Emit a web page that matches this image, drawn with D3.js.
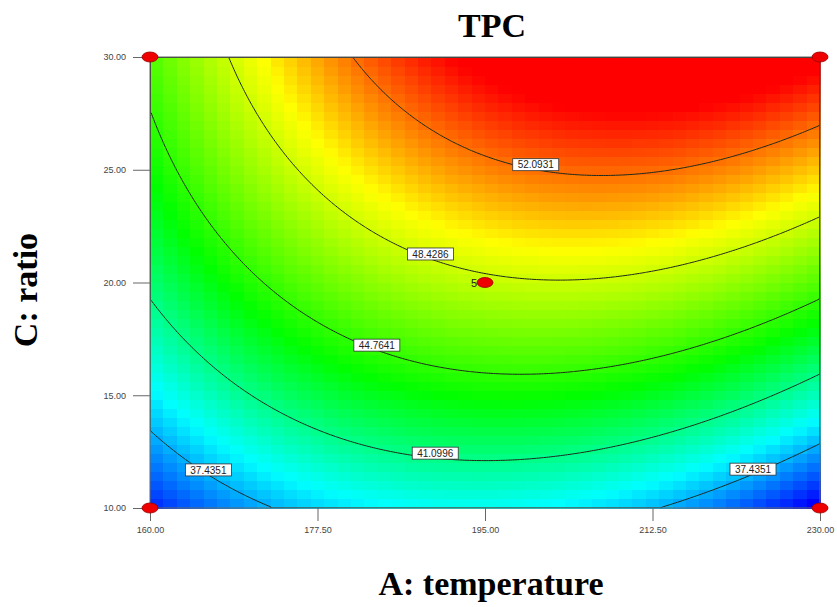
<!DOCTYPE html>
<meta charset="utf-8">
<html>
<head>
<script src="https://cdn.jsdelivr.net/npm/d3@7"></script>
<style>
body { margin: 0; background: #fff; }
.tick text { font-family: 'Liberation Sans', Arial, sans-serif; font-size: 9px; fill: #444; }
.tick line { stroke: #666; }
.big { font-family: 'Liberation Serif', 'Times New Roman', serif; font-weight: bold; font-size: 34px; fill: #000; }
.clab { font-family: 'Liberation Sans', Arial, sans-serif; font-size: 10px; fill: #222; }
</style>
</head>
<body>
<div id="chart"></div>
<script>

// axis ticks
var aTicks = [160, 177.5, 195, 212.5, 230];
var cTicks = [10, 15, 20, 25, 30];

// fitted quadratic model in coded units (A: -1..1, C: -1..1)
var coefTerms  = ["Intercept", "A", "C", "AC", "A^2", "C^2"];
var coefValues = [48.12, 2.015, 7.83, 2.53, -4.615, -1.34];

// contour levels and where their labels sit (A value)
var contourLevels = [37.4351, 41.0996, 44.7641, 48.4286, 52.0931];
var labelLevels = [52.0931, 48.4286, 44.7641, 41.0996, 37.4351, 37.4351];
var labelA      = [200.3, 189.3, 183.7, 189.8, 166.1, 223.0];

// design points
var pointA = [160, 230, 160, 230, 195];
var pointC = [30, 30, 10, 10, 20];
var pointRuns = [1, 1, 1, 1, 5];

var W = 837, H = 607;
var pLeft = 150, pRight = 820, pTop = 57, pBottom = 508;

var svg = d3.select("#chart").append("svg")
    .attr("width", W).attr("height", H);

var x = d3.scaleLinear().domain([160, 230]).range([pLeft, pRight]);
var y = d3.scaleLinear().domain([10, 30]).range([pBottom, pTop]);

function predict(A, C) {
  var a = (A - 195) / 35, c = (C - 20) / 10, b = coefValues;
  return b[0] + b[1]*a + b[2]*c + b[3]*a*c + b[4]*a*a + b[5]*c*c;
}

// colour cells
var nCols = 50, nRows = 50;
var dA = 70 / nCols, dC = 20 / nRows;
var cells = [];
for (var j = 0; j < nRows; j++)
  for (var i = 0; i < nCols; i++)
    cells.push({A: 160 + i*dA, C: 10 + j*dC, v: predict(160 + (i+0.5)*dA, 10 + (j+0.5)*dC)});

var ext = d3.extent(cells, function(d) { return d.v; });
// blue -> cyan -> green -> yellow -> red, stops as fractions of the range
var stops = [0, 0.214, 0.442, 0.716, 0.93];
var color = d3.scaleLinear()
    .domain(stops.map(function(f) { return ext[0] + f*(ext[1]-ext[0]); }))
    .range(["#0000ff", "#00ffff", "#00ff00", "#ffff00", "#ff0000"])
    .clamp(true);

svg.append("g").selectAll("rect")
  .data(cells).enter().append("rect")
    .attr("x", function(d) { return x(d.A); })
    .attr("y", function(d) { return y(d.C + dC); })
    .attr("width", x(160 + dA) - x(160) + 0.5)
    .attr("height", y(10) - y(10 + dC) + 0.5)
    .attr("fill", function(d) { return color(d.v); })
    .attr("shape-rendering", "crispEdges");

// contour lines
var nx = 280, ny = 200;
var grid = new Array(nx*ny);
for (var j = 0; j < ny; j++)
  for (var i = 0; i < nx; i++)
    grid[j*nx + i] = predict(160 + (i+0.5)*70/nx, 10 + (j+0.5)*20/ny);

var contours = d3.contours().size([nx, ny]).thresholds(contourLevels)(grid);
var path = d3.geoPath(d3.geoTransform({
  point: function(px, py) { this.stream.point(x(160 + px*70/nx), y(10 + py*20/ny)); }
}));

svg.append("clipPath").attr("id", "clip")
  .append("rect").attr("x", pLeft).attr("y", pTop)
  .attr("width", pRight-pLeft).attr("height", pBottom-pTop);

svg.append("g").attr("clip-path", "url(#clip)")
  .selectAll("path").data(contours).enter().append("path")
    .attr("d", path)
    .attr("fill", "none")
    .attr("stroke", "#1e2a1e")
    .attr("stroke-width", 1);

// frame
svg.append("rect")
    .attr("x", pLeft).attr("y", pTop)
    .attr("width", pRight-pLeft).attr("height", pBottom-pTop)
    .attr("fill", "none").attr("stroke", "#666");

// axes
var yAxis = svg.append("g").attr("transform", "translate(" + pLeft + ",0)")
    .call(d3.axisLeft(y).tickValues(cTicks).tickFormat(d3.format(".2f")).tickSize(17).tickPadding(7));
yAxis.select(".domain").remove();
var xAxis = svg.append("g").attr("transform", "translate(0," + pBottom + ")")
    .call(d3.axisBottom(x).tickValues(aTicks).tickFormat(d3.format(".2f")).tickSize(13).tickPadding(6));
xAxis.select(".domain").remove();

// contour labels
function labelC(A, level) {
  var a = (A - 195) / 35, b = coefValues;
  var qa = b[5], qb = b[2] + b[3]*a, qc = b[0] + b[1]*a + b[4]*a*a - level;
  var s = Math.sqrt(qb*qb - 4*qa*qc);
  var r1 = (-qb + s) / (2*qa), r2 = (-qb - s) / (2*qa);
  var c = Math.abs(r1) <= 1 ? r1 : r2;
  return 20 + c*10;
}

var labs = svg.append("g").selectAll("g")
  .data(labelLevels).enter().append("g")
    .attr("transform", function(d, k) {
      return "translate(" + x(labelA[k]) + "," + (y(labelC(labelA[k], d)) - 5) + ")";
    });
labs.append("rect")
    .attr("x", -23).attr("y", -6).attr("width", 46).attr("height", 12)
    .attr("fill", "#fff").attr("stroke", "#333").attr("stroke-width", 0.8);
labs.append("text").attr("class", "clab")
    .attr("text-anchor", "middle").attr("y", 3.6)
    .text(function(d) { return d3.format(".4f")(d); });

// design points
var pts = svg.append("g").selectAll("g")
  .data(pointA).enter().append("g")
    .attr("transform", function(d, k) { return "translate(" + x(d) + "," + y(pointC[k]) + ")"; });
pts.append("ellipse")
    .attr("rx", 8).attr("ry", 5)
    .attr("fill", "#ee0000").attr("stroke", "#990000").attr("stroke-width", 0.8);
pts.filter(function(d, k) { return pointRuns[k] > 1; })
  .append("text")
    .attr("x", -8).attr("y", 4)
    .attr("text-anchor", "end")
    .style("font-family", "'Liberation Sans', Arial, sans-serif")
    .style("font-size", "11px").style("fill", "#222")
    .text(function(d) { return pointRuns[pointA.indexOf(d, 4)]; });

// titles
svg.append("text").attr("class", "big")
    .attr("x", 492).attr("y", 37).attr("text-anchor", "middle").text("TPC");
svg.append("text").attr("class", "big")
    .attr("x", 491).attr("y", 595).attr("text-anchor", "middle").text("A: temperature");
svg.append("text").attr("class", "big")
    .attr("transform", "translate(37,290) rotate(-90)")
    .attr("text-anchor", "middle").text("C: ratio");

</script>
</body>
</html>
